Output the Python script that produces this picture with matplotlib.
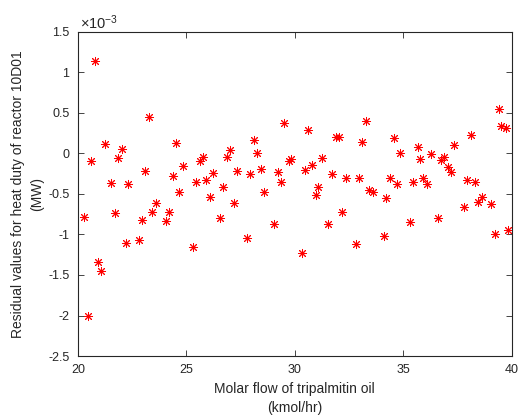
import matplotlib.pyplot as plt
from matplotlib.ticker import FixedLocator, FuncFormatter

plt.rcParams["font.family"] = ["Liberation Sans", "DejaVu Sans"]
plt.rcParams["mathtext.fontset"] = "custom"
plt.rcParams["mathtext.rm"] = "Liberation Sans"

# Residuals of the heat duty model for reactor 10D01 (values in 1e-3 MW)
flow = [
    20.79, 20.60, 21.25, 21.53, 21.83, 22.03, 22.31, 23.11, 23.26, 24.39,
    24.52, 24.66, 24.85, 25.45, 25.62, 25.79, 25.89, 26.11, 26.25, 26.69,
    26.88, 27.03, 27.18, 27.35, 27.92, 28.12, 28.26, 28.45, 28.60, 29.23,
    29.37, 29.52, 29.71, 29.83, 30.63, 30.49, 30.80, 30.96, 31.09, 31.27,
    31.73, 31.89, 32.04, 32.35, 32.97, 33.12, 33.29, 33.44, 33.62, 34.22,
    34.41, 34.55, 34.69, 34.87, 35.47, 35.66, 35.79, 35.93, 36.10, 36.26,
    36.72, 36.89, 37.04, 37.22, 37.35, 37.96, 38.14, 38.30, 38.61, 39.39,
    39.50, 39.73, 20.27, 20.48, 20.93, 21.07, 21.73, 22.20, 22.82, 22.96,
    23.42, 23.60, 24.06, 24.22, 25.32, 26.55, 27.81, 29.05, 30.31, 31.55,
    32.18, 32.84, 34.09, 35.33, 36.58, 37.82, 38.45, 39.04, 39.25, 39.85,
]
residual_e3 = [
    1.137, -0.090, 0.115, -0.370, -0.053, 0.058, -0.380, -0.220, 0.447, -0.280,
    0.130, -0.480, -0.160, -0.360, -0.100, -0.050, -0.330, -0.540, -0.240, -0.420,
    -0.045, 0.045, -0.610, -0.220, -0.260, 0.168, 0.004, -0.190, -0.480, -0.230,
    -0.360, 0.377, -0.100, -0.070, 0.287, -0.205, -0.150, -0.520, -0.420, -0.053,
    -0.260, 0.205, 0.205, -0.300, -0.310, 0.144, 0.400, -0.450, -0.480, -0.550,
    -0.310, 0.193, -0.385, 0.004, -0.350, 0.078, -0.070, -0.300, -0.380, -0.004,
    -0.078, -0.041, -0.164, -0.230, 0.107, -0.324, 0.230, -0.350, -0.540, 0.550,
    0.340, 0.310, -0.790, -2.010, -1.334, -1.450, -0.740, -1.110, -1.070, -0.820,
    -0.720, -0.610, -0.840, -0.720, -1.154, -0.800, -1.040, -0.866, -1.228, -0.870,
    -0.720, -1.117, -1.018, -0.846, -0.797, -0.660, -0.600, -0.630, -1.000, -0.950,
]

x_ticks = [20, 25, 30, 35, 40]
y_ticks = [-2.5, -2, -1.5, -1, -0.5, 0, 0.5, 1, 1.5]

txt = "#262626"
fig = plt.figure(figsize=(5.19, 4.20), dpi=100)
ax = fig.add_axes([0.150, 0.152, 0.836, 0.773])

ax.plot(flow, residual_e3, linestyle="none", marker=(8, 2, 0),
        markersize=6.5, markeredgewidth=0.7, color="#ff0000")

ax.set_xlim(20, 40)
ax.set_ylim(-2.5, 1.5)
ax.xaxis.set_major_locator(FixedLocator(x_ticks))
ax.yaxis.set_major_locator(FixedLocator(y_ticks))
ax.yaxis.set_major_formatter(FuncFormatter(lambda v, _: f"{v:g}"))
ax.tick_params(direction="in", length=4, width=0.6, colors=txt,
               labelsize=9, top=True, right=True, pad=6)
for s in ax.spines.values():
    s.set_color(txt)
    s.set_linewidth(0.8)

ax.set_xlabel("Molar flow of tripalmitin oil\n(kmol/hr)", fontsize=10,
              color=txt, labelpad=4, linespacing=1.45)
ax.set_ylabel("Residual values for heat duty of reactor 10D01\n(MW)",
              fontsize=10, color=txt, labelpad=3, linespacing=1.45)
ax.text(0.005, 1.0, r"$\times\mathregular{10^{-3}}$", transform=ax.transAxes,
        fontsize=10.5, color=txt, ha="left", va="bottom")

fig.savefig("out.png", dpi=100)
